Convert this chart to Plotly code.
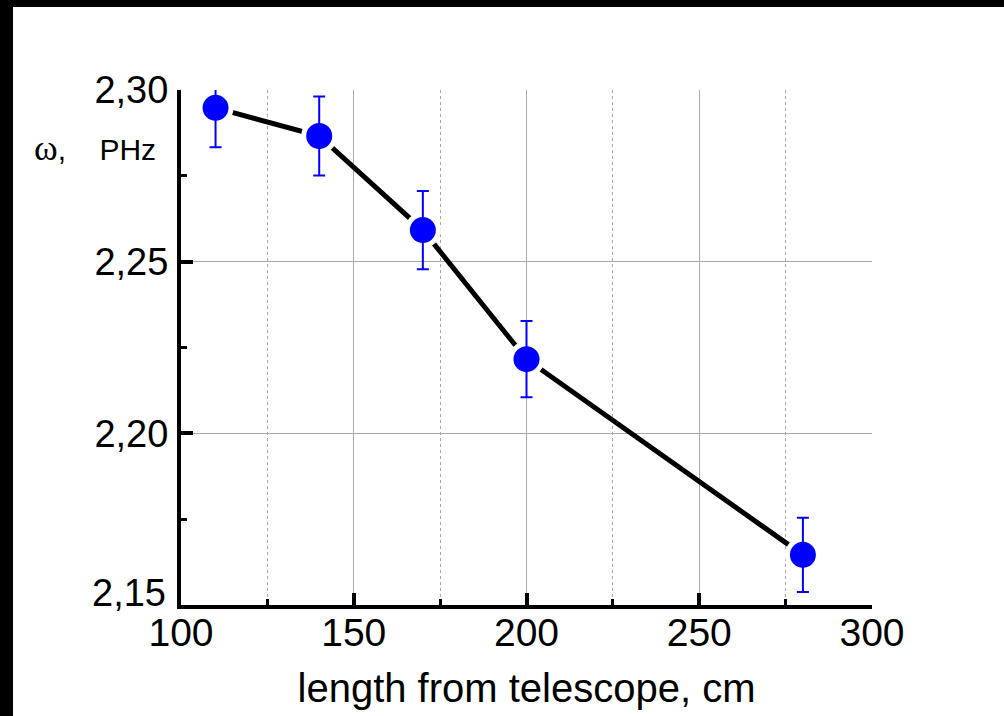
import plotly.graph_objects as go

length_cm = [110, 140, 170, 200, 280]
omega_phz = [2.2948, 2.2866, 2.2592, 2.2216, 2.1646]
omega_err = [0.0115, 0.0115, 0.0114, 0.0111, 0.0108]

x_ticks = [100, 150, 200, 250, 300]
y_ticks = [2.15, 2.20, 2.25, 2.30]
y_tick_labels = ["", "2,20", "2,25", "2,30"]
y_bottom_label = "2,15"

FONT = "Liberation Sans, Arial, sans-serif"
SERIF = "Liberation Serif, Times New Roman, serif"
BLUE = "#0000ff"

fig = go.Figure()
fig.add_trace(go.Scatter(x=length_cm, y=omega_phz, mode="lines",
                         line=dict(color="black", width=5), hoverinfo="skip"))
fig.add_trace(go.Scatter(x=length_cm, y=omega_phz, mode="markers",
                         marker=dict(color="white", size=36, line=dict(width=0)),
                         hoverinfo="skip"))
fig.add_trace(go.Scatter(x=length_cm, y=omega_phz, mode="markers",
                         marker=dict(color=BLUE, size=26, line=dict(width=0)),
                         error_y=dict(type="data", array=omega_err, visible=True,
                                      color=BLUE, thickness=2, width=6)))

grid = "#a8a8a8"
fig.update_xaxes(range=[100, 300], tickvals=x_ticks, ticks="inside", ticklen=12,
                 tickwidth=4, tickcolor="black", showline=True, linewidth=4,
                 linecolor="black", showgrid=True, gridcolor=grid, gridwidth=1,
                 zeroline=False, tickfont=dict(family=FONT, size=39, color="black"),
                 ticklabelstandoff=-10,
                 title=dict(text="length from telescope, cm",
                            font=dict(family=FONT, size=40, color="black"), standoff=22),
                 minor=dict(dtick=25, ticks="inside", ticklen=6, tickwidth=3,
                            tickcolor="black", showgrid=True, gridcolor=grid,
                            griddash="dot", gridwidth=1))
fig.update_yaxes(range=[2.15, 2.30], tickvals=y_ticks, ticktext=y_tick_labels,
                 ticks="inside", ticklen=12, tickwidth=4, tickcolor="black",
                 showline=True, linewidth=4, linecolor="black", showgrid=True,
                 gridcolor=grid, gridwidth=1, zeroline=False,
                 tickfont=dict(family=FONT, size=38, color="black"),
                 ticklabelstandoff=1,
                 minor=dict(dtick=0.025, ticks="inside", ticklen=6, tickwidth=3,
                            tickcolor="black", showgrid=False))

fig.add_annotation(xref="paper", yref="paper", x=-0.019, y=0.024,
                   xanchor="right", yanchor="middle", showarrow=False,
                   text=y_bottom_label, font=dict(family=FONT, size=38, color="black"))

fig.add_annotation(xref="paper", yref="paper", x=-0.033, y=0.887,
                   xanchor="right", yanchor="middle", showarrow=False,
                   text=f'<span style="font-family:{SERIF};font-size:36px">ω</span>,\u00a0\u00a0\u00a0 PHz',
                   font=dict(family=FONT, size=30, color="black"))

fig.add_shape(type="rect", xref="paper", yref="paper", x0=-0.2431, x1=1.25,
              y0=-0.25, y1=1.1612, fillcolor="white", line=dict(width=0),
              layer="below")

fig.update_layout(width=1004, height=716, separators=",.",
                  margin=dict(l=181, r=132, t=90, b=111),
                  paper_bgcolor="black", plot_bgcolor="white",
                  showlegend=False, font=dict(family=FONT))
fig.write_html("out.html", config={"displayModeBar": False},
               post_script="document.body.style.margin='0px';document.body.style.background='black';")
